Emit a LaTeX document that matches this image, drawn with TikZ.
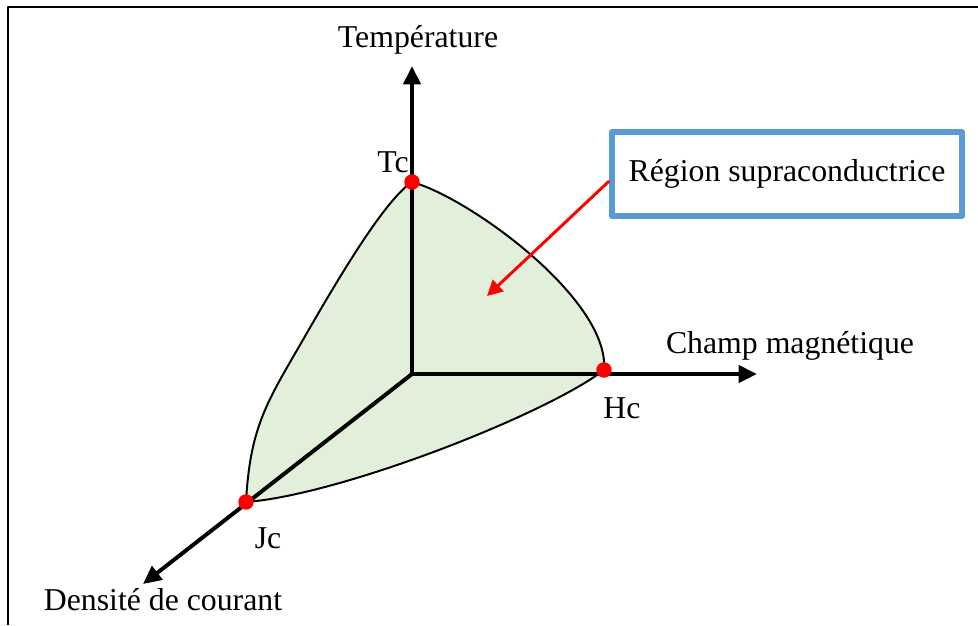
\documentclass[tikz,border=0pt]{standalone}
\usepackage{fontspec}
\setmainfont{Liberation Serif}
\usetikzlibrary{arrows.meta}

\definecolor{vertpale}{RGB}{226,239,218}
\definecolor{bleucadre}{RGB}{91,155,213}

\begin{document}
\begin{tikzpicture}[x=0.025cm,y=-0.025cm,line join=round,
  every node/.style={font=\fontsize{22.6}{27}\selectfont},
  axe/.style={line width=2.8pt,-{Triangle[length=13pt,width=12pt]}},
  point/.style={circle,fill=red,inner sep=0pt,minimum size=11pt},
  cadre/.style={draw=bleucadre,line width=4pt,fill=white,minimum width=8.75cm,minimum height=2.1cm},
  fleche/.style={red,line width=2.1pt,-{Triangle[length=11pt,width=11pt]}}]

% taille de la page (en pixels de l'image)
\useasboundingbox (0,0) rectangle (978,625);

% cadre partiel (haut et gauche)
\draw[line width=0.8pt] (978,7) -- (8,7) -- (8,625);

% points clés
\coordinate (O)  at (412,374);
\coordinate (Tc) at (412,182);
\coordinate (Hc) at (604,370);
\coordinate (Jc) at (246,502);

% extrémités des axes
\coordinate (Ttip) at (412,66);
\coordinate (Htip) at (757,374);
\coordinate (Jtip) at (143,584);

% région supraconductrice (remplissage)
\fill[vertpale] (Tc) .. controls (470,198) and (610,300) .. (Hc)
  .. controls (545,415) and (340,495) .. (Jc)
  .. controls (250,430) and (265,405) .. (300,345)
  .. controls (340,275) and (385,200) .. (Tc) -- cycle;

% axes
\draw[axe] (O) -- (Ttip);
\draw[axe] (O) -- (Htip);
\draw[axe] (O) -- (Jtip);

% contour de la région
\draw[line width=1.4pt] (Tc) .. controls (470,198) and (610,300) .. (Hc)
  .. controls (545,415) and (340,495) .. (Jc)
  .. controls (250,430) and (265,405) .. (300,345)
  .. controls (340,275) and (385,200) .. (Tc);

% points critiques
\node[point] (tc) at (Tc) {};
\node[point] (hc) at (Hc) {};
\node[point] (jc) at (Jc) {};

% étiquettes
\node (temp)    at (418,40)  {Température};
\node (champ)   at (790,346) {Champ magnétique};
\node (densite) at (163,600) {Densité de courant};
\node (tclab)   at (393,162) {Tc};
\node (hclab)   at (622,408) {Hc};
\node (jclab)   at (268,538) {Jc};

% cadre de légende et flèche rouge
\node[cadre] (region) at (787,174) {Région supraconductrice};
\coordinate (cible) at (487,296);
\draw[fleche] ([yshift=-5pt]region.west) -- (cible);

\end{tikzpicture}
\end{document}
